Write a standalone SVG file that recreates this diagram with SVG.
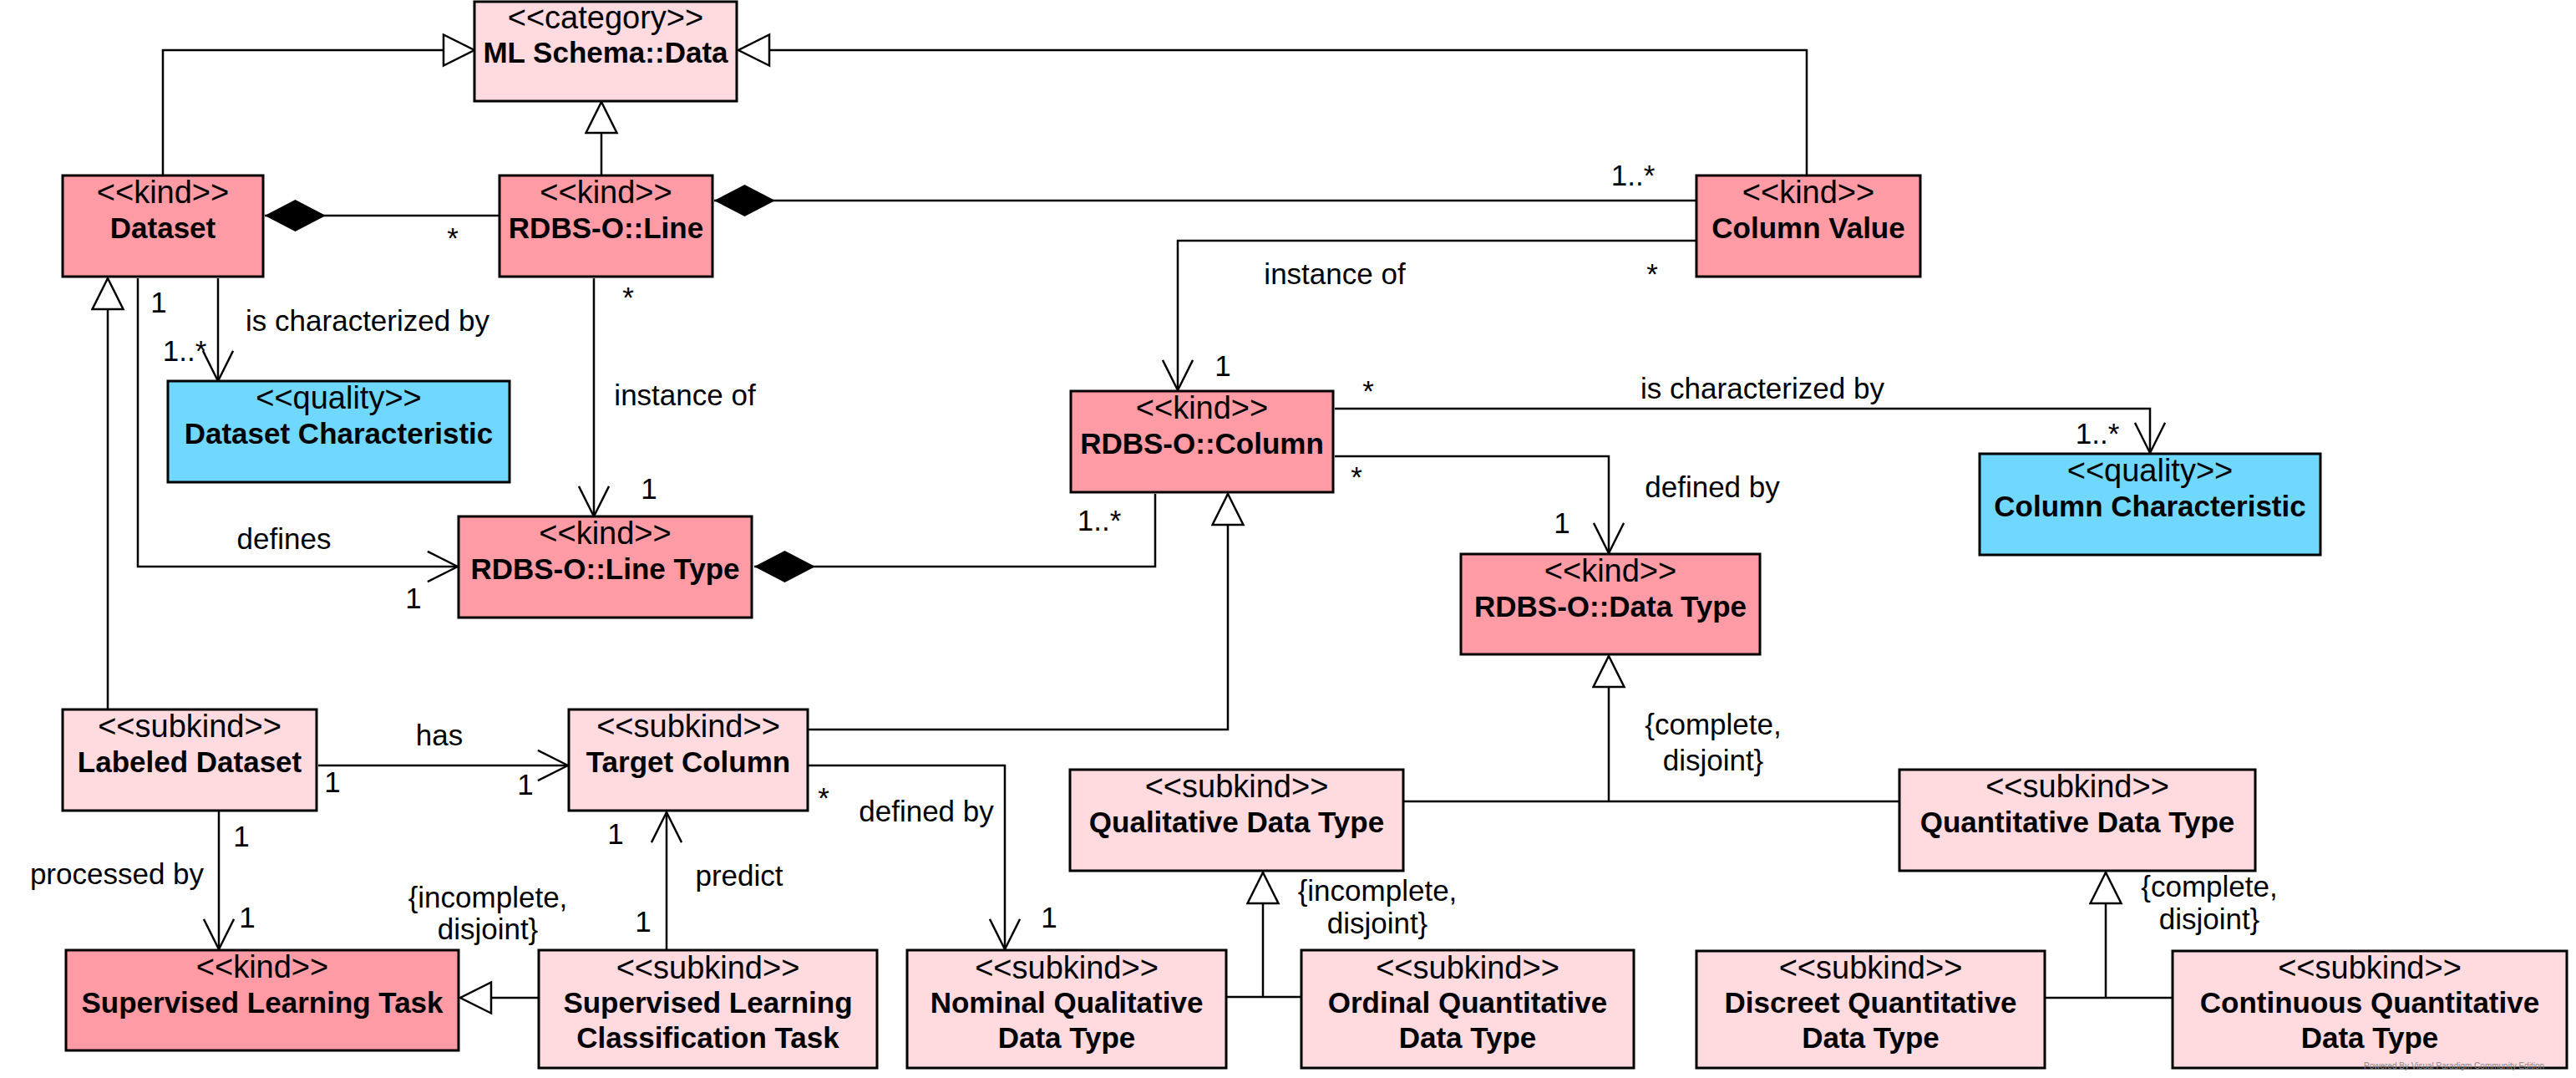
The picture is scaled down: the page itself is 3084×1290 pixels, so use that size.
<svg xmlns="http://www.w3.org/2000/svg" width="3084" height="1290" viewBox="0 0 3084 1290">
<style>
.kind{fill:#FF9BA5;stroke:#000;stroke-width:3}
.sub{fill:#FFDADF;stroke:#000;stroke-width:3}
.qual{fill:#70D7FF;stroke:#000;stroke-width:3}
text{font-family:"Liberation Sans",Arial,sans-serif;font-size:35px;fill:#000}
.c{text-anchor:middle}
.b{font-weight:bold}
.s{font-size:38px}
.ln{fill:none;stroke:#000;stroke-width:2.5}
.wm{font-size:10px;fill:#888}
</style>
<defs>
<marker id="open" markerUnits="userSpaceOnUse" markerWidth="40" markerHeight="40" refX="37" refY="18.5" orient="auto" viewBox="-2 -2 41 41">
<path d="M0,0 L37,18.5 L0,37" fill="none" stroke="#000" stroke-width="2.5"/>
</marker>
<marker id="gen" markerUnits="userSpaceOnUse" markerWidth="42" markerHeight="42" refX="37" refY="18.5" orient="auto" viewBox="-2 -2 42 42">
<path d="M0,0 L37,18.5 L0,37 Z" fill="#fff" stroke="#000" stroke-width="2.5"/>
</marker>
<marker id="dia" markerUnits="userSpaceOnUse" markerWidth="76" markerHeight="42" refX="0" refY="19" orient="auto" viewBox="-1 -1 76 40">
<path d="M0,19 L36.5,0 L73,19 L36.5,38 Z" fill="#000"/>
</marker>
</defs>

<g id="connectors">
<path class="ln" d="M195,210 V60 H568" marker-end="url(#gen)"/>
<path class="ln" d="M720,210 V122" marker-end="url(#gen)"/>
<path class="ln" d="M2163,210 V60 H884" marker-end="url(#gen)"/>
<path class="ln" d="M317,258 H598" marker-start="url(#dia)"/>
<path class="ln" d="M855,240 H2031" marker-start="url(#dia)"/>
<path class="ln" d="M2031,288 H1410 V467" marker-end="url(#open)"/>
<path class="ln" d="M261,333 V456" marker-end="url(#open)"/>
<path class="ln" d="M711,333 V618" marker-end="url(#open)"/>
<path class="ln" d="M165,333 V678 H548" marker-end="url(#open)"/>
<path class="ln" d="M903,678 H1383 V591" marker-start="url(#dia)"/>
<path class="ln" d="M1598,489 H2574 V542" marker-end="url(#open)"/>
<path class="ln" d="M1598,546 H1926 V662" marker-end="url(#open)"/>
<path class="ln" d="M1926,959 V785" marker-end="url(#gen)"/>
<path class="ln" d="M1680,959 H2274"/>
<path class="ln" d="M129,849 V333" marker-end="url(#gen)"/>
<path class="ln" d="M381,916 H680" marker-end="url(#open)"/>
<path class="ln" d="M262,971 V1136" marker-end="url(#open)"/>
<path class="ln" d="M967,873 H1470 V591" marker-end="url(#gen)"/>
<path class="ln" d="M967,916 H1203 V1136" marker-end="url(#open)"/>
<path class="ln" d="M645,1194 H551" marker-end="url(#gen)"/>
<path class="ln" d="M798,1137 V972" marker-end="url(#open)"/>
<path class="ln" d="M1512,1193 V1044" marker-end="url(#gen)"/>
<path class="ln" d="M1468,1193 H1558"/>
<path class="ln" d="M2521,1194 V1044" marker-end="url(#gen)"/>
<path class="ln" d="M2449,1194 H2601"/>

<text class="c" x="542" y="297">*</text>
<text class="c" x="1955" y="222">1..*</text>
<text class="c" x="1598" y="340">instance of</text>
<text class="c" x="1978" y="340">*</text>
<text class="c" x="1464" y="450">1</text>
<text class="c" x="440" y="396">is characterized by</text>
<text class="c" x="190" y="374">1</text>
<text class="c" x="221" y="432">1..*</text>
<text class="c" x="752" y="368">*</text>
<text class="c" x="820" y="485">instance of</text>
<text class="c" x="777" y="597">1</text>
<text class="c" x="340" y="657">defines</text>
<text class="c" x="495" y="728">1</text>
<text class="c" x="1316" y="635">1..*</text>
<text class="c" x="1638" y="480">*</text>
<text class="c" x="2110" y="477">is characterized by</text>
<text class="c" x="2511" y="531">1..*</text>
<text class="c" x="1624" y="583">*</text>
<text class="c" x="2050" y="595">defined by</text>
<text class="c" x="1870" y="638">1</text>
<text class="c" x="2051" y="879">{complete,</text>
<text class="c" x="2051" y="922">disjoint}</text>
<text class="c" x="526" y="892">has</text>
<text class="c" x="398" y="948">1</text>
<text class="c" x="629" y="951">1</text>
<text class="c" x="289" y="1013">1</text>
<text class="c" x="296" y="1110">1</text>
<text class="c" x="140" y="1058">processed by</text>
<text class="c" x="986" y="967">*</text>
<text class="c" x="1109" y="983">defined by</text>
<text class="c" x="1256" y="1110">1</text>
<text class="c" x="584" y="1086">{incomplete,</text>
<text class="c" x="584" y="1124">disjoint}</text>
<text class="c" x="737" y="1010">1</text>
<text class="c" x="770" y="1115">1</text>
<text class="c" x="885" y="1060">predict</text>
<text class="c" x="1649" y="1078">{incomplete,</text>
<text class="c" x="1649" y="1117">disjoint}</text>
<text class="c" x="2645" y="1073">{complete,</text>
<text class="c" x="2645" y="1112">disjoint}</text>
</g>

<g id="ml-schema-data"><rect class="sub" x="568" y="2" width="314" height="119"/><text class="c s" x="725" y="34">&lt;&lt;category&gt;&gt;</text><text class="c b" x="725" y="75">ML Schema::Data</text></g>
<g id="dataset"><rect class="kind" x="75" y="210" width="240" height="121"/><text class="c s" x="195" y="243">&lt;&lt;kind&gt;&gt;</text><text class="c b" x="195" y="285">Dataset</text></g>
<g id="rdbs-line"><rect class="kind" x="598" y="210" width="255" height="121"/><text class="c s" x="725.5" y="243">&lt;&lt;kind&gt;&gt;</text><text class="c b" x="725.5" y="285">RDBS-O::Line</text></g>
<g id="column-value"><rect class="kind" x="2031" y="210" width="268" height="121"/><text class="c s" x="2165" y="243">&lt;&lt;kind&gt;&gt;</text><text class="c b" x="2165" y="285">Column Value</text></g>
<g id="dataset-characteristic"><rect class="qual" x="201" y="456" width="409" height="121"/><text class="c s" x="405.5" y="489">&lt;&lt;quality&gt;&gt;</text><text class="c b" x="405.5" y="531">Dataset Characteristic</text></g>
<g id="rdbs-line-type"><rect class="kind" x="549" y="618" width="351" height="121"/><text class="c s" x="724.5" y="651">&lt;&lt;kind&gt;&gt;</text><text class="c b" x="724.5" y="693">RDBS-O::Line Type</text></g>
<g id="rdbs-column"><rect class="kind" x="1282" y="468" width="314" height="121"/><text class="c s" x="1439" y="501">&lt;&lt;kind&gt;&gt;</text><text class="c b" x="1439" y="543">RDBS-O::Column</text></g>
<g id="column-characteristic"><rect class="qual" x="2370" y="543" width="408" height="121"/><text class="c s" x="2574" y="576">&lt;&lt;quality&gt;&gt;</text><text class="c b" x="2574" y="618">Column Characteristic</text></g>
<g id="rdbs-data-type"><rect class="kind" x="1749" y="663" width="358" height="120"/><text class="c s" x="1928" y="696">&lt;&lt;kind&gt;&gt;</text><text class="c b" x="1928" y="738">RDBS-O::Data Type</text></g>
<g id="labeled-dataset"><rect class="sub" x="75" y="849" width="304" height="121"/><text class="c s" x="227" y="882">&lt;&lt;subkind&gt;&gt;</text><text class="c b" x="227" y="924">Labeled Dataset</text></g>
<g id="target-column"><rect class="sub" x="681" y="849" width="286" height="121"/><text class="c s" x="824" y="882">&lt;&lt;subkind&gt;&gt;</text><text class="c b" x="824" y="924">Target Column</text></g>
<g id="qualitative-data-type"><rect class="sub" x="1281" y="921" width="399" height="121"/><text class="c s" x="1480.5" y="954">&lt;&lt;subkind&gt;&gt;</text><text class="c b" x="1480.5" y="996">Qualitative Data Type</text></g>
<g id="quantitative-data-type"><rect class="sub" x="2274" y="921" width="426" height="121"/><text class="c s" x="2487" y="954">&lt;&lt;subkind&gt;&gt;</text><text class="c b" x="2487" y="996">Quantitative Data Type</text></g>
<g id="supervised-learning-task"><rect class="kind" x="79" y="1137" width="470" height="120"/><text class="c s" x="314" y="1170">&lt;&lt;kind&gt;&gt;</text><text class="c b" x="314" y="1212">Supervised Learning Task</text></g>
<g id="slc-task"><rect class="sub" x="645" y="1137" width="405" height="141"/><text class="c s" x="847.5" y="1171">&lt;&lt;subkind&gt;&gt;</text><text class="c b" x="847.5" y="1212">Supervised Learning</text><text class="c b" x="847.5" y="1254">Classification Task</text></g>
<g id="nominal"><rect class="sub" x="1086" y="1137" width="382" height="141"/><text class="c s" x="1277" y="1171">&lt;&lt;subkind&gt;&gt;</text><text class="c b" x="1277" y="1212">Nominal Qualitative</text><text class="c b" x="1277" y="1254">Data Type</text></g>
<g id="ordinal"><rect class="sub" x="1558" y="1137" width="398" height="141"/><text class="c s" x="1757" y="1171">&lt;&lt;subkind&gt;&gt;</text><text class="c b" x="1757" y="1212">Ordinal Quantitative</text><text class="c b" x="1757" y="1254">Data Type</text></g>
<g id="discreet"><rect class="sub" x="2031" y="1138" width="417" height="140"/><text class="c s" x="2239.5" y="1171">&lt;&lt;subkind&gt;&gt;</text><text class="c b" x="2239.5" y="1212">Discreet Quantitative</text><text class="c b" x="2239.5" y="1254">Data Type</text></g>
<g id="continuous"><rect class="sub" x="2601" y="1138" width="472" height="140"/><text class="c s" x="2837" y="1171">&lt;&lt;subkind&gt;&gt;</text><text class="c b" x="2837" y="1212">Continuous Quantitative</text><text class="c b" x="2837" y="1254">Data Type</text></g>
<text class="wm" x="2830" y="1279">Powered By Visual Paradigm Community Edition</text>
</svg>
